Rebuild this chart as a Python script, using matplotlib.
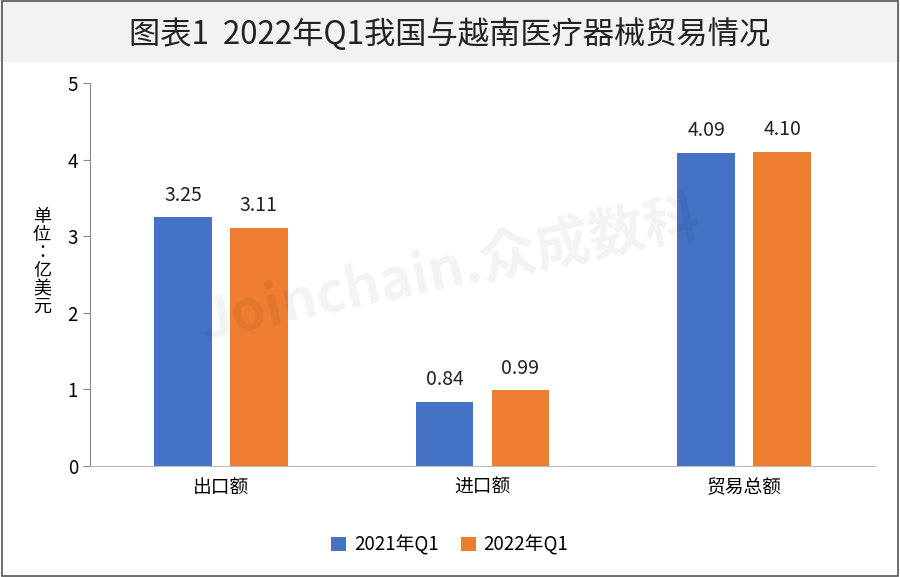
import matplotlib
matplotlib.use("Agg")
import matplotlib.pyplot as plt
from matplotlib import font_manager
import numpy as np
from matplotlib.patches import Rectangle

cands = [f.name for f in font_manager.fontManager.ttflist if "CJK" in f.name]
cjk = "Noto Sans CJK SC" if "Noto Sans CJK SC" in cands else (cands[0] if cands else "DejaVu Sans")
plt.rcParams['font.family'] = 'sans-serif'
plt.rcParams['font.sans-serif'] = [cjk, 'DejaVu Sans']

categories = ["出口额", "进口额", "贸易总额"]
series_names = ["2021年Q1", "2022年Q1"]
v2021 = [3.25, 0.84, 4.09]
v2022 = [3.11, 0.99, 4.10]
colors = ["#4472C4", "#ED7D31"]

fig = plt.figure(figsize=(9, 5.77), dpi=100)
fig.patches.append(Rectangle((0, 1-62/577), 1, 62/577, transform=fig.transFigure,
                             facecolor="#F2F2F2", edgecolor="none", zorder=0))
fig.patches.append(Rectangle((0.002, 0.002), 0.996, 0.996, transform=fig.transFigure,
                             facecolor="none", edgecolor="#555555", lw=1.2, zorder=5))
fig.text(0.5, 1-35/577, "图表1  2022年Q1我国与越南医疗器械贸易情况", ha="center", va="center",
         fontsize=22.5, color="#222222")

ax = fig.add_axes([90/900, 1-466/577, 785/900, (466-83)/577])
x = np.arange(len(categories))
w = 0.22
b1 = ax.bar(x - 0.145, v2021, w, color=colors[0], label=series_names[0])
b2 = ax.bar(x + 0.145, v2022, w, color=colors[1], label=series_names[1])
for bars, vals in ((b1, v2021), (b2, v2022)):
    for r, v in zip(bars, vals):
        ax.text(r.get_x() + r.get_width()/2, v + 0.15, f"{v:.2f}", ha="center",
                va="bottom", fontsize=14, color="#222222")
ax.set_ylim(0, 5)
ax.set_xlim(-0.5, 2.5)
ax.set_yticks(range(6))
ax.set_xticks(x)
ax.set_xticklabels(categories, fontsize=13.5)
ax.tick_params(axis='y', labelsize=13.5, length=5, color="#888888")
ax.tick_params(axis='x', length=0, pad=8)
for s in ("top", "right"):
    ax.spines[s].set_visible(False)
ax.spines["left"].set_color("#888888")
ax.spines["bottom"].set_color("#BBBBBB")
fig.text(42/900, 1-262/577, "单\n位\n：\n亿\n美\n元", ha="center", va="center",
         fontsize=13, linespacing=1.0)
fig.text(450/900, 1-270/577, "Joinchain.众成数科", rotation=12, ha="center", va="center",
         fontsize=40, color="#000000", alpha=0.05, fontweight="bold")
fig.legend(handles=[b1, b2], loc="center", bbox_to_anchor=(450/900, 1-545/577), ncol=2,
           frameon=False, fontsize=13.5, handlelength=0.8, handleheight=0.8, columnspacing=1.2,
           handletextpad=0.4)
fig.savefig("out.png", dpi=100)
